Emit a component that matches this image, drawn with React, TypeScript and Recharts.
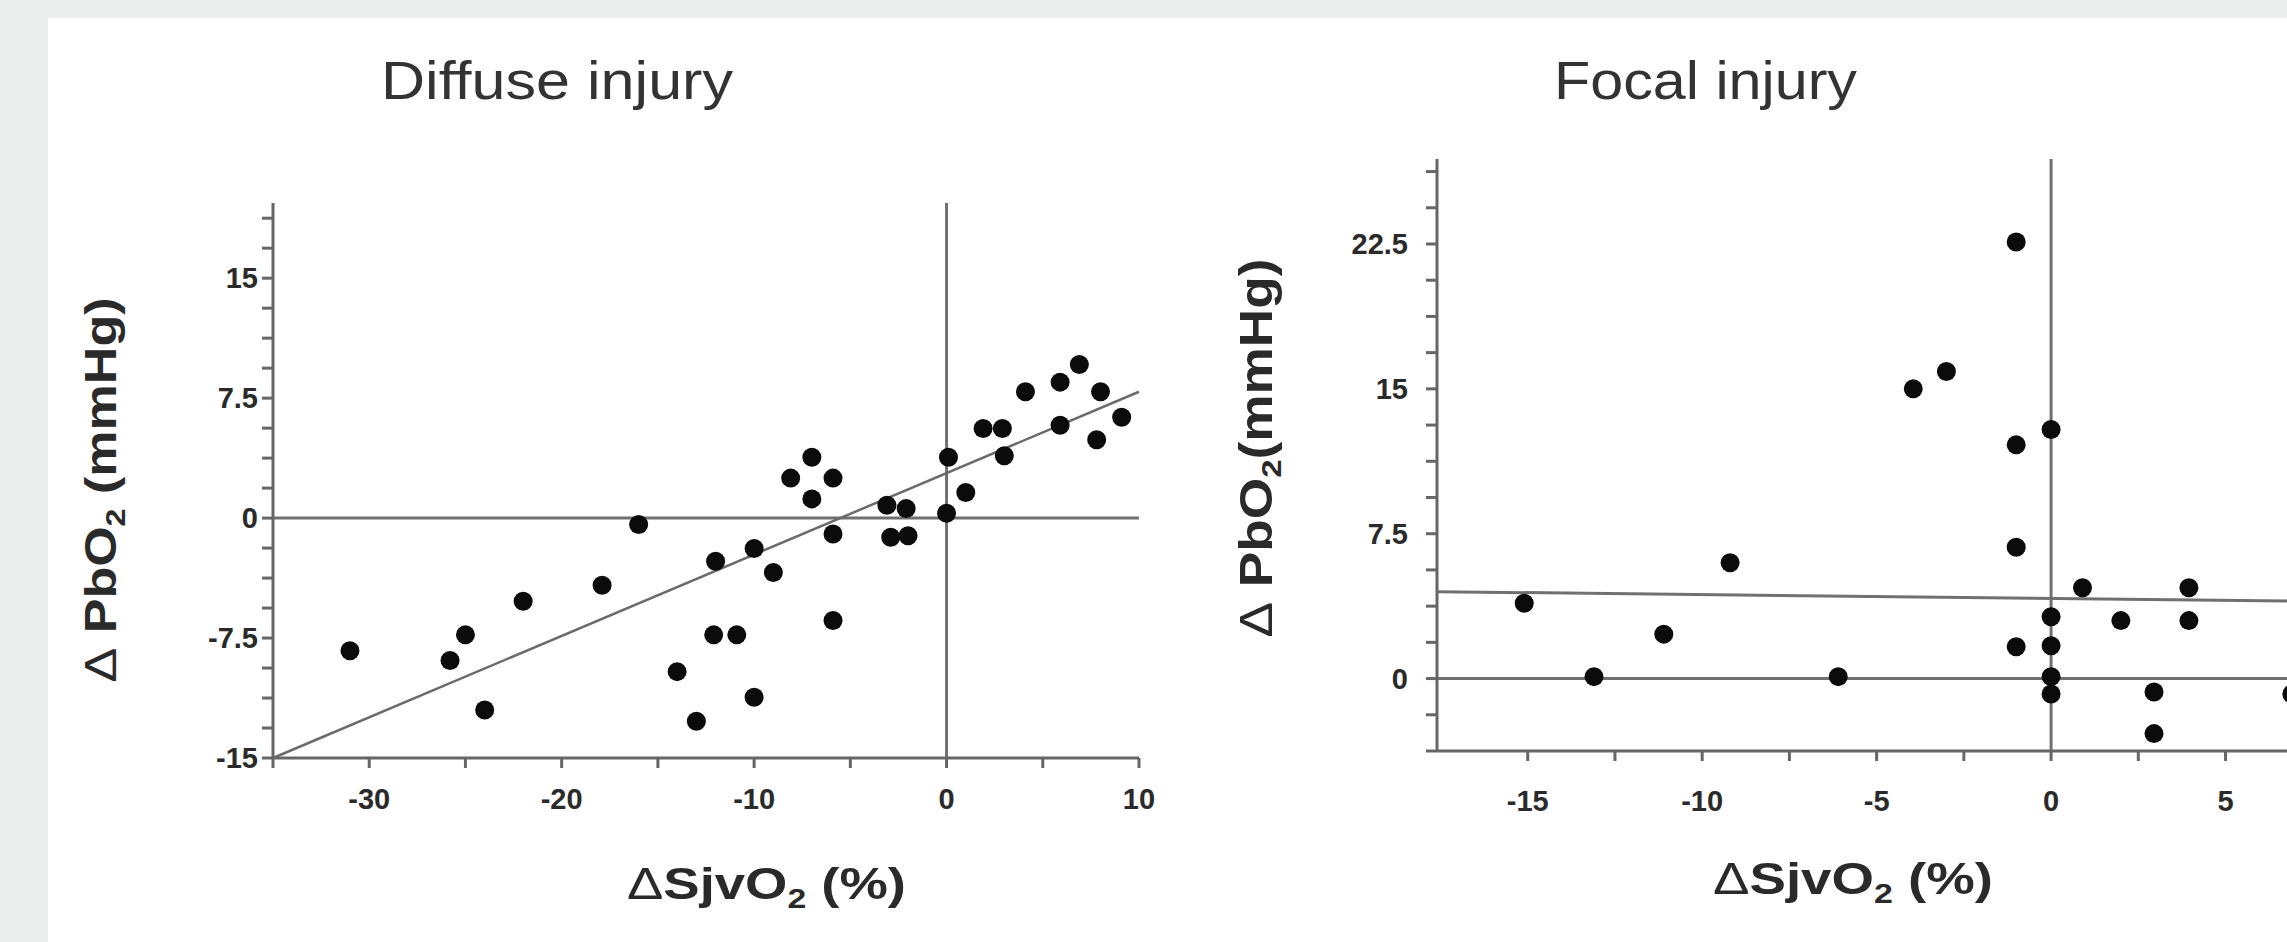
import React from 'react';
import { ScatterChart, Scatter, XAxis, YAxis, ReferenceLine } from 'recharts';

// Diffuse injury: ΔSjvO2 (%) against ΔPbO2 (mmHg)
const diffuseSjv = [-31, -25.8, -25, -24, -22, -17.9, -16, -14, -13, -12, -12.1, -10.9, -10, -10, -9, -7, -8.1, -5.9, -7, -5.9, -5.9, -3.1, -2.1, -2.9, -2, 0.1, 0, 1, 1.9, 2.9, 3, 4.1, 6.9, 5.9, 8, 9.1, 5.9, 7.8];
const diffusePbo = [-8.3, -8.9, -7.3, -12, -5.2, -4.2, -0.4, -9.6, -12.7, -2.7, -7.3, -7.3, -1.9, -11.2, -3.4, 3.8, 2.5, 2.5, 1.2, -1, -6.4, 0.8, 0.6, -1.2, -1.1, 3.8, 0.3, 1.6, 5.6, 5.6, 3.9, 7.9, 9.6, 8.5, 7.9, 6.3, 5.8, 4.9];
const diffuseFit = [{ x: -35, y: -15 }, { x: 10, y: 7.9 }];
const diffuseXTicks = [-30, -20, -10, 0, 10];
const diffuseYTicks = [-15, -7.5, 0, 7.5, 15];

// Focal injury
const focalSjv = [-15.1, -13.1, -11.1, -9.2, -6.1, -3.95, -3, -1, -1, 0, -1, -1, 0.9, 3.95, 0, 2, 3.95, 0, 0, 0, 2.95, 2.95, 6.9];
const focalPbo = [3.9, 0.1, 2.3, 6, 0.1, 15, 15.9, 22.6, 12.1, 12.9, 6.8, 1.65, 4.7, 4.7, 3.2, 3, 3, 1.7, 0.1, -0.8, -0.7, -2.85, -0.8];
const focalFit = [{ x: -17.6, y: 4.5 }, { x: 10, y: 3.95 }];
const focalXTicks = [-15, -10, -5, 0, 5];
const focalYTicks = [0, 7.5, 15, 22.5];

const diffuseData = diffuseSjv.map((x, i) => ({ x, y: diffusePbo[i] }));
const focalData = focalSjv.map((x, i) => ({ x, y: focalPbo[i] }));

// minor tick positions
const steps = (from: number, to: number, step: number) =>
  Array.from({ length: Math.round((to - from) / step) + 1 }, (_, i) => from + i * step);

const AXIS = '#666';
const FONT = '"Liberation Sans", Arial, sans-serif';
const TEXT = '#2a2a2a';

const dot = (props: any) => <circle cx={props.cx} cy={props.cy} r={9.5} fill="#0b0b0b" />;

const yTick = (majors: number[], gap: number) => (props: any) => {
  const { x, y, payload } = props;
  const major = majors.includes(payload.value);
  return (
    <g>
      <line x1={x - 11} x2={x} y1={y} y2={y} stroke={AXIS} strokeWidth={3} />
      {major && (
        <text x={x - gap} y={y} textAnchor="end" dominantBaseline="central" fontFamily={FONT} fontWeight="bold" fontSize={29} fill={TEXT}>
          {String(payload.value)}
        </text>
      )}
    </g>
  );
};

const xTick = (majors: number[], gap: number) => (props: any) => {
  const { x, y, payload } = props;
  const major = majors.includes(payload.value);
  return (
    <g>
      <line x1={x} x2={x} y1={y} y2={y + 10} stroke={AXIS} strokeWidth={3} />
      {major && (
        <text x={x} y={y + gap} textAnchor="middle" dominantBaseline="central" fontFamily={FONT} fontWeight="bold" fontSize={29} fill={TEXT}>
          {String(payload.value)}
        </text>
      )}
    </g>
  );
};

const yTitle = (x: number, cy: number, len: number, size: number, gap: string) => () => (
  <text
    x={x}
    y={cy}
    transform={`rotate(-90 ${x} ${cy})`}
    textAnchor="middle"
    fontFamily={FONT}
    fontWeight="bold"
    fontSize={size}
    fill={TEXT}
    textLength={len}
    lengthAdjust="spacingAndGlyphs"
  >
    <tspan fontWeight="normal">Δ</tspan> PbO<tspan dy={9} fontSize={size * 0.62}>2</tspan>
    <tspan dy={-9}>{gap}(mmHg)</tspan>
  </text>
);

const xTitle = (x: number, y: number, len: number, size: number) => () => (
  <text x={x} y={y} fontFamily={FONT} fontWeight="bold" fontSize={size} fill={TEXT} textLength={len} lengthAdjust="spacingAndGlyphs">
    <tspan fontWeight="normal">Δ</tspan>SjvO<tspan dy={9} fontSize={size * 0.62}>2</tspan>
    <tspan dy={-9}> (%)</tspan>
  </text>
);

export default function App() {
  return (
    <div style={{ position: 'absolute', left: 0, top: 0, width: 2287, height: 942, overflow: 'hidden', background: '#eceeed' }}>
      <div style={{ position: 'absolute', left: 48, top: 18, width: 2239, height: 924, background: '#fff' }} />

      <div style={{ position: 'absolute', left: 0, top: 0 }}>
        <ScatterChart width={1180} height={942} margin={{ top: 203, right: 41, bottom: 124, left: 0 }}>
          <XAxis
            type="number"
            dataKey="x"
            domain={[-35, 10]}
            ticks={steps(-35, 10, 5)}
            interval={0}
            allowDataOverflow
            height={60}
            tickSize={0}
            tickMargin={0}
            tickLine={false}
            axisLine={{ stroke: AXIS, strokeWidth: 3 }}
            tick={xTick(diffuseXTicks, 41)}
            label={xTitle(627, 899, 279, 44)}
          />
          <YAxis
            type="number"
            dataKey="y"
            domain={[-15, 19.7]}
            ticks={steps(-15, 18.75, 1.875)}
            interval={0}
            allowDataOverflow
            width={273}
            tickSize={0}
            tickMargin={0}
            tickLine={false}
            axisLine={{ stroke: AXIS, strokeWidth: 3 }}
            tick={yTick(diffuseYTicks, 15)}
            label={yTitle(116, 490, 385, 44, ' ')}
          />
          <ReferenceLine y={0} stroke="#707070" strokeWidth={3} />
          <ReferenceLine x={0} stroke="#707070" strokeWidth={3} />
          <ReferenceLine segment={diffuseFit} stroke="#6a6a6a" strokeWidth={2.5} />
          <Scatter data={diffuseData} shape={dot} isAnimationActive={false} />
        </ScatterChart>
      </div>

      <div style={{ position: 'absolute', left: 1180, top: 0 }}>
        <ScatterChart width={1240} height={942} margin={{ top: 159, right: 20, bottom: 131, left: 0 }}>
          <XAxis
            type="number"
            dataKey="x"
            domain={[-17.6, 10]}
            ticks={steps(-15, 10, 2.5)}
            interval={0}
            allowDataOverflow
            height={60}
            tickSize={0}
            tickMargin={0}
            tickLine={false}
            axisLine={{ stroke: AXIS, strokeWidth: 3 }}
            tick={xTick(focalXTicks, 50)}
            label={xTitle(1713 - 1180, 894, 280, 44)}
          />
          <YAxis
            type="number"
            dataKey="y"
            domain={[-3.75, 26.9]}
            ticks={steps(-3.75, 26.25, 1.875)}
            interval={0}
            allowDataOverflow
            width={257}
            tickSize={0}
            tickMargin={0}
            tickLine={false}
            axisLine={{ stroke: AXIS, strokeWidth: 3 }}
            tick={yTick(focalYTicks, 29)}
            label={yTitle(1272 - 1180, 448, 379, 46, '')}
          />
          <ReferenceLine y={0} stroke="#707070" strokeWidth={3} />
          <ReferenceLine x={0} stroke="#707070" strokeWidth={3} />
          <ReferenceLine segment={focalFit} stroke="#707070" strokeWidth={3} />
          <Scatter data={focalData} shape={dot} isAnimationActive={false} />
        </ScatterChart>
      </div>

      <svg width={2287} height={942} style={{ position: 'absolute', left: 0, top: 0, pointerEvents: 'none' }}>
        <text x={381} y={99} fontFamily={FONT} fontSize={54} fill="#333" textLength={352} lengthAdjust="spacingAndGlyphs">
          Diffuse injury
        </text>
        <text x={1554} y={99} fontFamily={FONT} fontSize={54} fill="#333" textLength={303} lengthAdjust="spacingAndGlyphs">
          Focal injury
        </text>
      </svg>
    </div>
  );
}
